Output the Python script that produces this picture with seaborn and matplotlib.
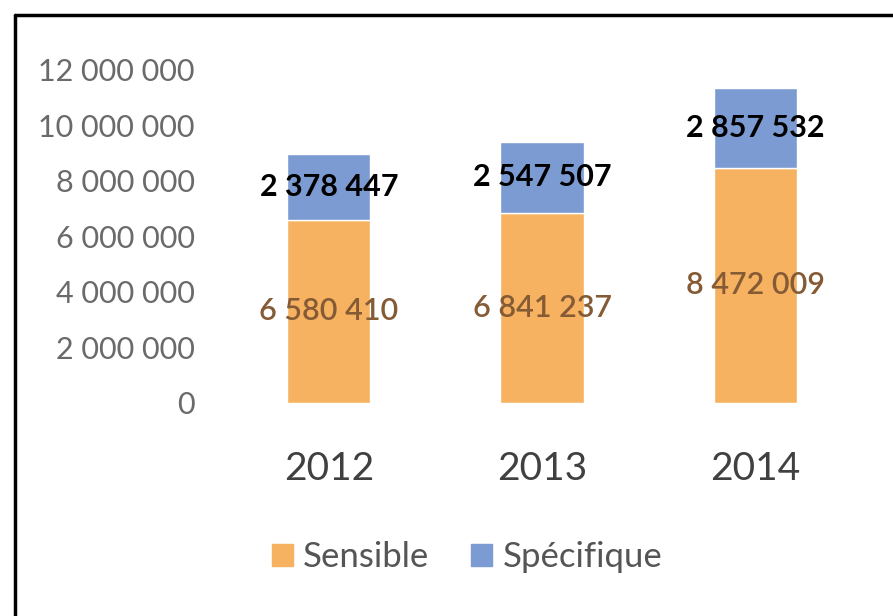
import matplotlib.pyplot as plt
import matplotlib.lines as mlines
import matplotlib.patches as mpatches
import seaborn as sns
import pandas as pd

years = ["2012", "2013", "2014"]
sensible = [6580410, 6841237, 8472009]
specifique = [2378447, 2547507, 2857532]

orange = "#F6B260"
blue = "#7C9BD2"

def fmt(v):
    return f"{v:,}".replace(",", " ")

sns.set_style("white")
plt.rcParams["font.family"] = ["Lato", "DejaVu Sans"]

df = pd.DataFrame({"year": years, "Sensible": sensible, "Spécifique": specifique})

fig = plt.figure(figsize=(8.93, 6.16), dpi=100)
ax = fig.add_axes([0.249, 0.346, 0.716, 0.541])

sns.barplot(data=df, x="year", y="Sensible", color=orange, width=0.39,
            saturation=1, ax=ax)
sns.barplot(data=df, x="year", y="Spécifique", color=blue, width=0.39,
            saturation=1, bottom=df["Sensible"], ax=ax)

for i, (s, p) in enumerate(zip(sensible, specifique)):
    ax.text(i, s / 2, fmt(s), ha="center", va="center", fontsize=22,
            color="#855B36", fontweight="semibold")
    ax.text(i, s + p / 2, fmt(p), ha="center", va="center", fontsize=22,
            color="black", fontweight="bold")

ax.set_xlim(-0.5, 2.5)
ax.set_ylim(0, 12000000)
ax.set_yticks(range(0, 12000001, 2000000))
ax.set_yticklabels([fmt(v) for v in range(0, 12000001, 2000000)],
                   fontsize=22, color="#6A6A6A")
ax.set_xticks(range(len(years)))
ax.set_xticklabels(years, fontsize=28, color="#404040")
ax.tick_params(axis="x", pad=35, length=0)
ax.tick_params(axis="y", pad=20, length=0)
ax.set_xlabel("")
ax.set_ylabel("")
for sp in ax.spines.values():
    sp.set_visible(False)

handles = [mpatches.Patch(color=orange, label="Sensible"),
           mpatches.Patch(color=blue, label="Spécifique")]
fig.legend(handles=handles, loc="center", bbox_to_anchor=(467 / 893, 1 - 557 / 616),
           ncol=2, frameon=False, fontsize=25, handlelength=0.6, handleheight=0.6,
           handletextpad=0.3, columnspacing=1.2, labelcolor="#555555")

# frame around the chart
fig.add_artist(mlines.Line2D([15 / 893, 15 / 893], [0, 1 - 15 / 616], color="black", lw=2.5))
fig.add_artist(mlines.Line2D([15 / 893, 1], [1 - 15 / 616, 1 - 15 / 616], color="black", lw=2.5))

fig.savefig("out.png", dpi=100)
